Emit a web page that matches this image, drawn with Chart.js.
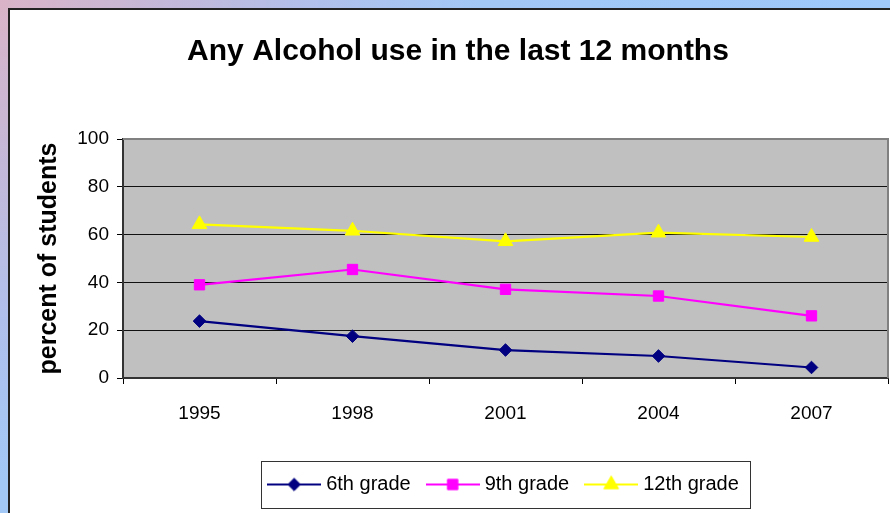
<!DOCTYPE html>
<html><head><meta charset="utf-8">
<script src="https://cdn.jsdelivr.net/npm/chart.js@4/dist/chart.umd.min.js"></script>
<style>
html,body{margin:0;padding:0;width:890px;height:513px;overflow:hidden;}
body{background:radial-gradient(circle at 0 0,#dab4c8 0px,#c4b8d8 160px,#b0c0ec 320px,#a2c8f6 480px,#9ec9fa 900px);position:relative;}
#panel{position:absolute;left:8px;top:8px;width:900px;height:520px;background:#fff;border:2px solid #222;}
#wrap{position:absolute;left:0;top:0;width:890px;height:513px;}
canvas{display:block;}
</style></head>
<body><div id="panel"></div><div id="wrap"><canvas id="c" width="890" height="513"></canvas></div>
<script>
const categories = ['1995', '1998', '2001', '2004', '2007'];
const sixthGrade = [23.8, 17.5, 11.7, 9.2, 4.4];
const ninthGrade = [39.0, 45.4, 37.1, 34.3, 26.0];
const twelfthGrade = [64.3, 61.6, 57.2, 60.8, 59.0];
const seriesNames = ['6th grade', '9th grade', '12th grade'];
const yTicks = [0, 20, 40, 60, 80, 100];
const chartTitle = 'Any Alcohol use in the last 12 months';
const yTitle = 'percent of students';

const FONT = '"Liberation Sans", Arial, sans-serif';
const styles = [
  {color: '#000080', point: 'rectRot', r: 6.3},
  {color: '#FF00FF', point: 'rect', r: 7.3},
  {color: '#FFFF00', point: 'triangle', r: 8.5}
];

function makeIcon(s) {
  const c = document.createElement('canvas');
  c.width = 54; c.height = 20;
  const g = c.getContext('2d');
  g.strokeStyle = s.color; g.lineWidth = 2;
  g.beginPath(); g.moveTo(0, 10); g.lineTo(54, 10); g.stroke();
  g.fillStyle = s.color; g.strokeStyle = s.color; g.lineWidth = 1;
  Chart.helpers.drawPoint(g, {pointStyle: s.point, radius: s.r, borderWidth: 1, rotation: 0}, 27, 10);
  return c;
}
const icons = styles.map(makeIcon);

const seriesData = [sixthGrade, ninthGrade, twelfthGrade];
const datasets = seriesData.map((d, i) => ({
  label: seriesNames[i],
  data: d,
  borderColor: styles[i].color,
  backgroundColor: styles[i].color,
  borderWidth: 2.2,
  pointStyle: styles[i].point,
  pointRadius: styles[i].r,
  pointHoverRadius: styles[i].r,
  pointBackgroundColor: styles[i].color,
  pointBorderColor: styles[i].color,
  pointBorderWidth: 1,
  fill: false,
  tension: 0
}));

const decor = {
  id: 'decor',
  beforeDraw(chart) {
    const {ctx, chartArea: a} = chart;
    ctx.save();
    ctx.fillStyle = '#c0c0c0';
    ctx.fillRect(a.left, a.top, a.right - a.left, a.bottom - a.top);
    ctx.restore();
  },
  beforeDatasetsDraw(chart) {
    const {ctx, chartArea: a} = chart;
    ctx.save();
    ctx.strokeStyle = '#808080'; ctx.lineWidth = 2;
    ctx.beginPath();
    ctx.moveTo(a.left, a.top); ctx.lineTo(a.right, a.top); ctx.lineTo(a.right, a.bottom);
    ctx.stroke();
    ctx.restore();
  },
  afterLayout(chart) {
    const lg = chart.legend, a = chart.chartArea;
    if (!lg) return;
    const delta = (a.left + a.right) / 2 - (lg.left + lg.right) / 2;
    lg.left += delta; lg.right += delta;
  },
  afterDraw(chart) {
    const lg = chart.legend;
    if (!lg || !lg.legendHitBoxes || !lg.legendHitBoxes.length) return;
    const hb = lg.legendHitBoxes;
    const l = hb[0].left - 11, r = hb[hb.length - 1].left + hb[hb.length - 1].width + 11;
    const t = hb[0].top - 13.5, b = hb[0].top + hb[0].height + 13.5;
    const ctx = chart.ctx;
    ctx.save();
    ctx.strokeStyle = '#333'; ctx.lineWidth = 1;
    ctx.strokeRect(Math.round(l) + 0.5, Math.round(t) + 0.5, Math.round(r - l), Math.round(b - t));
    ctx.restore();
  }
};

new Chart(document.getElementById('c'), {
  type: 'line',
  data: {labels: categories, datasets},
  plugins: [decor],
  options: {
    responsive: false,
    animation: false,
    layout: {autoPadding: false, padding: {left: 28, right: 2, top: 0, bottom: 8.5}},
    plugins: {
      title: {
        display: true, text: chartTitle, color: '#000',
        font: {family: FONT, size: 30, weight: 'bold'},
        padding: {top: 33.5, bottom: 69.5}
      },
      legend: {
        display: true, position: 'bottom',
        labels: {
          color: '#000', font: {family: FONT, size: 20},
          usePointStyle: true, pointStyleWidth: 44, padding: 20,
          generateLabels(chart) {
            return Chart.defaults.plugins.legend.labels.generateLabels(chart).map((it, i) => Object.assign(it, {pointStyle: icons[i]}));
          }
        }
      },
      tooltip: {enabled: false}
    },
    scales: {
      x: {
        type: 'category', offset: true,
        grid: {display: true, drawOnChartArea: false, drawTicks: true, tickLength: 6, offset: true, color: '#000', tickColor: '#000'},
        border: {display: true, color: '#333', width: 2},
        ticks: {color: '#000', font: {family: FONT, size: 19}, padding: 18, maxRotation: 0, autoSkip: false},
        afterFit(s) { s.height = 76.5; s.paddingLeft = 0; s.paddingRight = 0; }
      },
      y: {
        min: 0, max: 100,
        afterBuildTicks(s) { s.ticks = yTicks.map(v => ({value: v})); },
        grid: {color: '#111', lineWidth: 1, tickLength: 6, tickColor: '#000'},
        border: {display: true, color: '#333', width: 2},
        ticks: {color: '#000', font: {family: FONT, size: 19}, padding: 8},
        title: {display: true, text: yTitle, color: '#000', font: {family: FONT, size: 25, weight: 'bold'}, padding: {top: 6, bottom: 0}},
        afterFit(s) { s.width = 95; }
      }
    }
  }
});
</script>
</body></html>
